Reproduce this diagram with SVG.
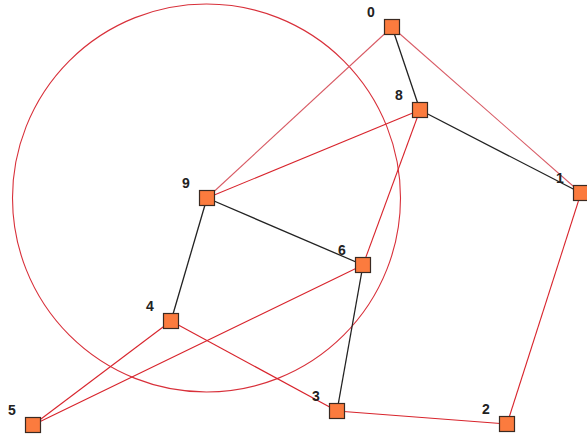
<svg xmlns="http://www.w3.org/2000/svg" width="587" height="438" viewBox="0 0 587 438">
<style>
.n rect{fill:#fb7b3e;stroke:#3a2a22;stroke-width:1.2}
.n text{font-family:"Liberation Sans",Arial,sans-serif;font-size:14px;font-weight:bold;fill:#222;text-anchor:middle}
.k{stroke:#222;stroke-width:1.3;fill:none}
.r{stroke:#d8242c;stroke-width:1.1;fill:none}
.p{stroke:#d85a64;stroke-width:1.1;fill:none}
</style>
<rect width="587" height="438" fill="#fff"/>
<circle cx="206.5" cy="198" r="194" fill="none" stroke="#d8303a" stroke-width="1.1"/>
<g id="connectors">
<line class="k" x1="392" y1="27" x2="420" y2="110"/>
<line class="k" x1="420" y1="110" x2="581" y2="193"/>
<line class="k" x1="207" y1="198" x2="363" y2="265"/>
<line class="k" x1="207" y1="198" x2="171" y2="321"/>
<line class="k" x1="363" y1="265" x2="337" y2="411"/>
<line class="p" x1="392" y1="27" x2="207" y2="198"/>
<line class="p" x1="392" y1="27" x2="581" y2="193"/>
<line class="r" x1="420" y1="110" x2="207" y2="198"/>
<line class="r" x1="420" y1="110" x2="363" y2="265"/>
<line class="r" x1="581" y1="193" x2="507" y2="424"/>
<line class="r" x1="507" y1="424" x2="337" y2="411"/>
<line class="r" x1="337" y1="411" x2="171" y2="321"/>
<line class="r" x1="171" y1="321" x2="33" y2="425"/>
<line class="r" x1="33" y1="425" x2="363" y2="265"/>
</g>
<g id="node0" class="n"><rect x="384.5" y="19.5" width="15" height="15"/><text x="371" y="17">0</text></g>
<g id="node1" class="n"><rect x="573.5" y="185.5" width="15" height="15"/><text x="560" y="183">1</text></g>
<g id="node2" class="n"><rect x="499.5" y="416.5" width="15" height="15"/><text x="486" y="414">2</text></g>
<g id="node3" class="n"><rect x="329.5" y="403.5" width="15" height="15"/><text x="316" y="401">3</text></g>
<g id="node4" class="n"><rect x="163.5" y="313.5" width="15" height="15"/><text x="150" y="311">4</text></g>
<g id="node5" class="n"><rect x="25.5" y="417.5" width="15" height="15"/><text x="12" y="415">5</text></g>
<g id="node6" class="n"><rect x="355.5" y="257.5" width="15" height="15"/><text x="342" y="255">6</text></g>
<g id="node8" class="n"><rect x="412.5" y="102.5" width="15" height="15"/><text x="399" y="100">8</text></g>
<g id="node9" class="n"><rect x="199.5" y="190.5" width="15" height="15"/><text x="186" y="188">9</text></g>
</svg>
